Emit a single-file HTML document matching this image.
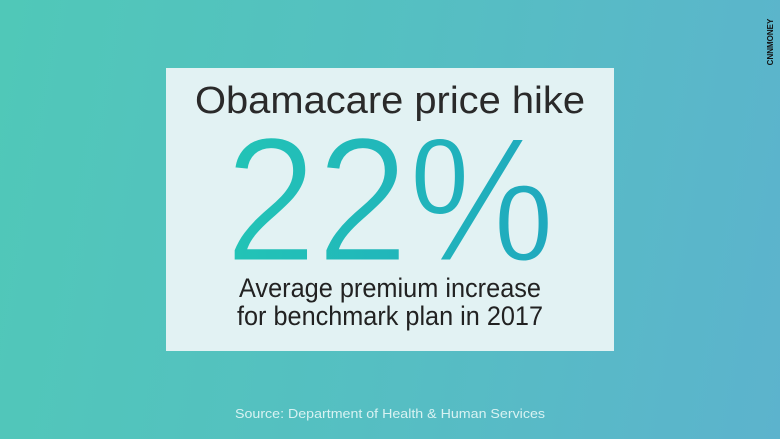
<!DOCTYPE html>
<html><head><style>
html,body{margin:0;padding:0}
body{width:780px;height:439px;overflow:hidden;background:linear-gradient(100deg,#50c8b8 0%,#55bfc2 50%,#5cb3cd 100%);font-family:"Liberation Sans",sans-serif;position:relative}
</style></head><body>
<svg width="780" height="439" style="position:absolute;left:0;top:0">
<defs><linearGradient id="g" x1="0" x2="1" y1="0" y2="0"><stop offset="0" stop-color="#22c4b6"/><stop offset="1" stop-color="#20a9be"/></linearGradient></defs>
<rect x="166" y="68" width="448" height="283" fill="#e2f2f3"/>
<text x="390" y="113" font-size="38" text-anchor="middle" fill="#2a2a2a" textLength="390" lengthAdjust="spacingAndGlyphs" font-family="Liberation Sans">Obamacare price hike</text>
<text x="390" y="261" font-size="178" text-anchor="middle" fill="url(#g)" stroke="#e2f2f3" stroke-width="3" paint-order="stroke" style="paint-order:normal" textLength="330" lengthAdjust="spacingAndGlyphs" font-family="Liberation Sans">22%</text>
<text x="390" y="297" font-size="27" text-anchor="middle" fill="#222" textLength="302" lengthAdjust="spacingAndGlyphs" font-family="Liberation Sans">Average premium increase</text>
<text x="390" y="325" font-size="27" text-anchor="middle" fill="#222" textLength="306" lengthAdjust="spacingAndGlyphs" font-family="Liberation Sans">for benchmark plan in 2017</text>
<text x="390" y="418" font-size="13" text-anchor="middle" fill="#d8f2f2" textLength="310" lengthAdjust="spacingAndGlyphs" font-family="Liberation Sans">Source: Department of Health &amp; Human Services</text>
<text transform="translate(773,42) rotate(-90)" font-size="8" font-weight="bold" text-anchor="middle" fill="#111" font-family="Liberation Sans">CNNMONEY</text>
</svg>
</body></html>
